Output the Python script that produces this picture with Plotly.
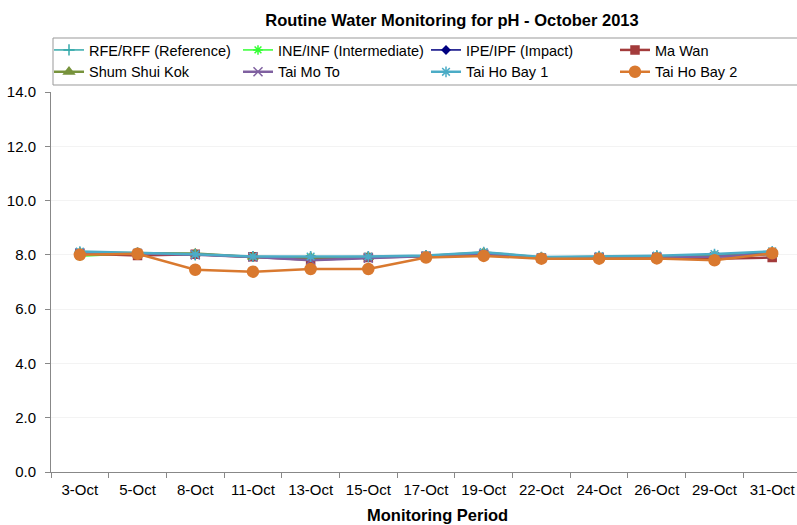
import plotly.graph_objects as go

dates = ["3-Oct", "5-Oct", "8-Oct", "11-Oct", "13-Oct", "15-Oct", "17-Oct",
         "19-Oct", "22-Oct", "24-Oct", "26-Oct", "29-Oct", "31-Oct"]

rfe = [8.08, 8.06, 8.00, 7.94, 7.92, 7.93, 7.97, 8.06, 7.90, 7.93, 7.95, 7.98, 8.08]
ine = [7.95, 8.05, 8.03, 7.92, 7.90, 7.92, 7.95, 8.04, 7.89, 7.92, 7.93, 7.95, 8.05]
ipe = [8.06, 8.04, 8.00, 7.93, 7.88, 7.91, 7.96, 8.05, 7.89, 7.92, 7.94, 7.96, 8.06]
ma_wan = [8.05, 7.98, 8.02, 7.93, 7.82, 7.90, 7.95, 8.00, 7.88, 7.90, 7.90, 7.86, 7.90]
shum_shui_kok = [8.08, 8.06, 8.05, 7.92, 7.90, 7.92, 7.96, 8.09, 7.90, 7.92, 7.94, 7.96, 8.02]
tai_mo_to = [8.07, 8.05, 8.00, 7.92, 7.80, 7.88, 7.95, 8.03, 7.88, 7.91, 7.92, 7.93, 8.04]
tai_ho_bay_1 = [8.12, 8.08, 8.02, 7.94, 7.94, 7.94, 7.98, 8.10, 7.92, 7.95, 7.97, 8.03, 8.13]
tai_ho_bay_2 = [8.00, 8.04, 7.45, 7.38, 7.48, 7.48, 7.90, 7.96, 7.86, 7.86, 7.87, 7.80, 8.06]

# name, values, colour, symbol, size, line width, legend column
series = [
    ("RFE/RFF (Reference)", rfe, "#35a9ab", "cross-thin-open", 8, 1.5, "legend"),
    ("INE/INF (Intermediate)", ine, "#33ff33", "asterisk-open", 8, 1.5, "legend2"),
    ("IPE/IPF (Impact)", ipe, "#000080", "diamond", 6, 1.5, "legend3"),
    ("Ma Wan", ma_wan, "#a33b3b", "square", 8, 2.5, "legend4"),
    ("Shum Shui Kok", shum_shui_kok, "#77933c", "triangle-up", 9, 2.5, "legend"),
    ("Tai Mo To", tai_mo_to, "#7f60a0", "x-thin-open", 9, 2.5, "legend2"),
    ("Tai Ho Bay 1", tai_ho_bay_1, "#4bacc6", "asterisk-open", 9, 2.5, "legend3"),
    ("Tai Ho Bay 2", tai_ho_bay_2, "#d9792f", "circle", 11, 2.5, "legend4"),
]

fig = go.Figure()
for name, vals, color, sym, size, lw, leg in series:
    fig.add_trace(go.Scatter(
        x=dates, y=vals, name=name, mode="lines+markers", legend=leg,
        line=dict(color=color, width=lw),
        marker=dict(symbol=sym, size=size, color=color,
                    line=dict(color=color, width=1.5)),
    ))

font_family = "Liberation Sans, Arial, sans-serif"
L, R, T, B = 51, 0, 92, 53
PW, PH = 797 - L - R, 525 - T - B


def px_x(px):
    return (px - L) / PW


def px_y(py):
    return (525 - B - py) / PH


leg_common = dict(orientation="v", yanchor="top", xanchor="left",
                  bgcolor="rgba(0,0,0,0)", borderwidth=0,
                  font=dict(size=14.5), tracegroupgap=0)
legend_top = px_y(34)
fig.update_layout(
    width=797, height=525,
    margin=dict(l=L, r=R, t=T, b=B, autoexpand=False),
    paper_bgcolor="white", plot_bgcolor="white",
    font=dict(family=font_family, size=15, color="#000"),
    title=dict(text="<b>Routine Water Monitoring for pH - October 2013</b>",
               xref="paper", x=px_x(452), xanchor="center",
               yref="container", y=1 - 20 / 525, yanchor="middle",
               font=dict(size=16.5, family=font_family)),
    legend=dict(x=px_x(49), y=legend_top, **leg_common),
    legend2=dict(x=px_x(238), y=legend_top, **leg_common),
    legend3=dict(x=px_x(426), y=legend_top, **leg_common),
    legend4=dict(x=px_x(615), y=legend_top, **leg_common),
    showlegend=True,
    shapes=[dict(type="rect", xref="paper", yref="paper",
                 x0=px_x(53), x1=px_x(800), y0=px_y(85), y1=px_y(38),
                 line=dict(color="#999", width=1), fillcolor="rgba(0,0,0,0)",
                 layer="above")],
    annotations=[dict(text="<b>Monitoring Period</b>", xref="paper", yref="paper",
                      x=px_x(437), y=px_y(515), xanchor="center", yanchor="middle",
                      showarrow=False, font=dict(size=16.5, family=font_family))],
)
fig.update_xaxes(
    type="category", range=[-0.5, 12.43], automargin=False,
    showline=True, linecolor="#888", linewidth=1,
    ticks="outside", tickson="boundaries", ticklen=5, tickcolor="#888",
    showgrid=False, ticklabelstandoff=4,
    tickfont=dict(size=15),
)
fig.update_yaxes(
    range=[0, 14], dtick=2, tickformat=".1f", automargin=False,
    showline=True, linecolor="#888", linewidth=1,
    ticks="outside", ticklen=5, tickcolor="#888",
    showgrid=True, gridcolor="#f3f3f3", zeroline=False,
    ticklabelstandoff=6,
    tickfont=dict(size=15),
)

fig.write_html("out.html", config={"displayModeBar": False},
               post_script="document.body.style.margin='0';document.body.style.padding='0';")
